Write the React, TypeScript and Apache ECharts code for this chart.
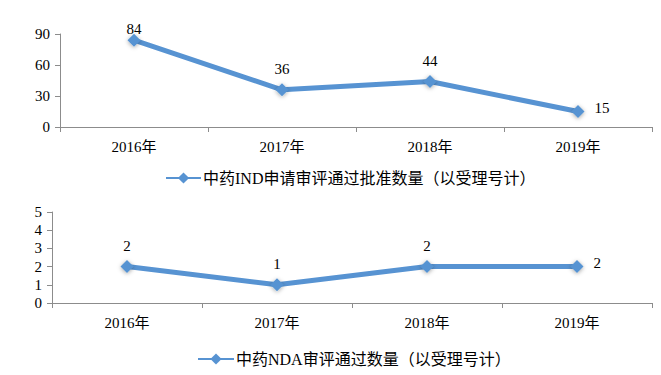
import React, { useEffect, useRef } from "react";
import * as echarts from "echarts";

const categories = ["2016年", "2017年", "2018年", "2019年"];
const indName = "中药IND申请审评通过批准数量（以受理号计）";
const indValues = [84, 36, 44, 15];
const ndaName = "中药NDA审评通过数量（以受理号计）";
const ndaValues = [2, 1, 2, 2];
const indTicks = { min: 0, max: 90, interval: 30 };
const ndaTicks = { min: 0, max: 5, interval: 1 };

const COLOR = "#5793D2";
const FONT = "'Liberation Serif', 'Noto Sans CJK SC', serif";

function buildData(values: number[], firstOffset?: number) {
  return values.map((v, i) => {
    if (i === values.length - 1) {
      return { value: v, label: { position: "right", distance: 10, offset: [0, -4] } };
    }
    if (i === 0 && firstOffset !== undefined) {
      return { value: v, label: { distance: firstOffset } };
    }
    return v;
  });
}

export default function App() {
  const ref = useRef<HTMLDivElement>(null);
  useEffect(() => {
    const chart = echarts.init(ref.current!, null, { renderer: "svg" });
    const axisLine = { show: true, lineStyle: { color: "#8C8C8C", width: 1 } };
    const xAxisCommon = {
      type: "category",
      data: categories,
      boundaryGap: true,
      axisLine,
      axisTick: { show: true, length: 5, inside: false, lineStyle: { color: "#8C8C8C" } },
      axisLabel: { color: "#000", fontSize: 15, fontFamily: FONT, margin: 12 },
    };
    const yAxisCommon = {
      type: "value",
      axisLine,
      axisTick: { show: true, length: 5, lineStyle: { color: "#8C8C8C" } },
      splitLine: { show: false },
      axisLabel: { color: "#000", fontSize: 15, fontFamily: FONT, margin: 10 },
    };
    const seriesCommon = {
      type: "line",
      symbol: "diamond",
      symbolSize: 13,
      lineStyle: { color: COLOR, width: 5 },
      itemStyle: { color: COLOR, shadowBlur: 4, shadowColor: "rgba(0,0,0,0.35)", shadowOffsetY: 1 },
      label: { show: true, position: "top", distance: 7, color: "#000", fontSize: 15, fontFamily: FONT },
    };
    chart.setOption({
      animation: false,
      legend: [
        {
          data: [indName],
          left: 165,
          top: 170,
          padding: 0,
          itemWidth: 35,
          itemHeight: 14,
          itemGap: 0,
          textStyle: { color: "#000", fontSize: 16, fontFamily: FONT, padding: [0, 0, 0, -3] },
        },
        {
          data: [ndaName],
          left: 197,
          top: 351,
          padding: 0,
          itemWidth: 36,
          itemHeight: 14,
          textStyle: { color: "#000", fontSize: 16, fontFamily: FONT, padding: [0, 0, 0, -3] },
        },
      ],
      grid: [
        { left: 60, right: 9, top: 34, height: 93 },
        { left: 52, right: 9, top: 212, height: 91 },
      ],
      xAxis: [
        { ...xAxisCommon, gridIndex: 0 },
        { ...xAxisCommon, gridIndex: 1 },
      ],
      yAxis: [
        { ...yAxisCommon, gridIndex: 0, ...indTicks },
        { ...yAxisCommon, gridIndex: 1, ...ndaTicks },
      ],
      series: [
        { ...seriesCommon, name: indName, xAxisIndex: 0, yAxisIndex: 0, data: buildData(indValues, -3) },
        { ...seriesCommon, name: ndaName, xAxisIndex: 1, yAxisIndex: 1, data: buildData(ndaValues) },
      ],
    });
    return () => chart.dispose();
  }, []);
  return <div ref={ref} style={{ width: 661, height: 375, position: "absolute", left: 0, top: 0, background: "#fff" }} />;
}
